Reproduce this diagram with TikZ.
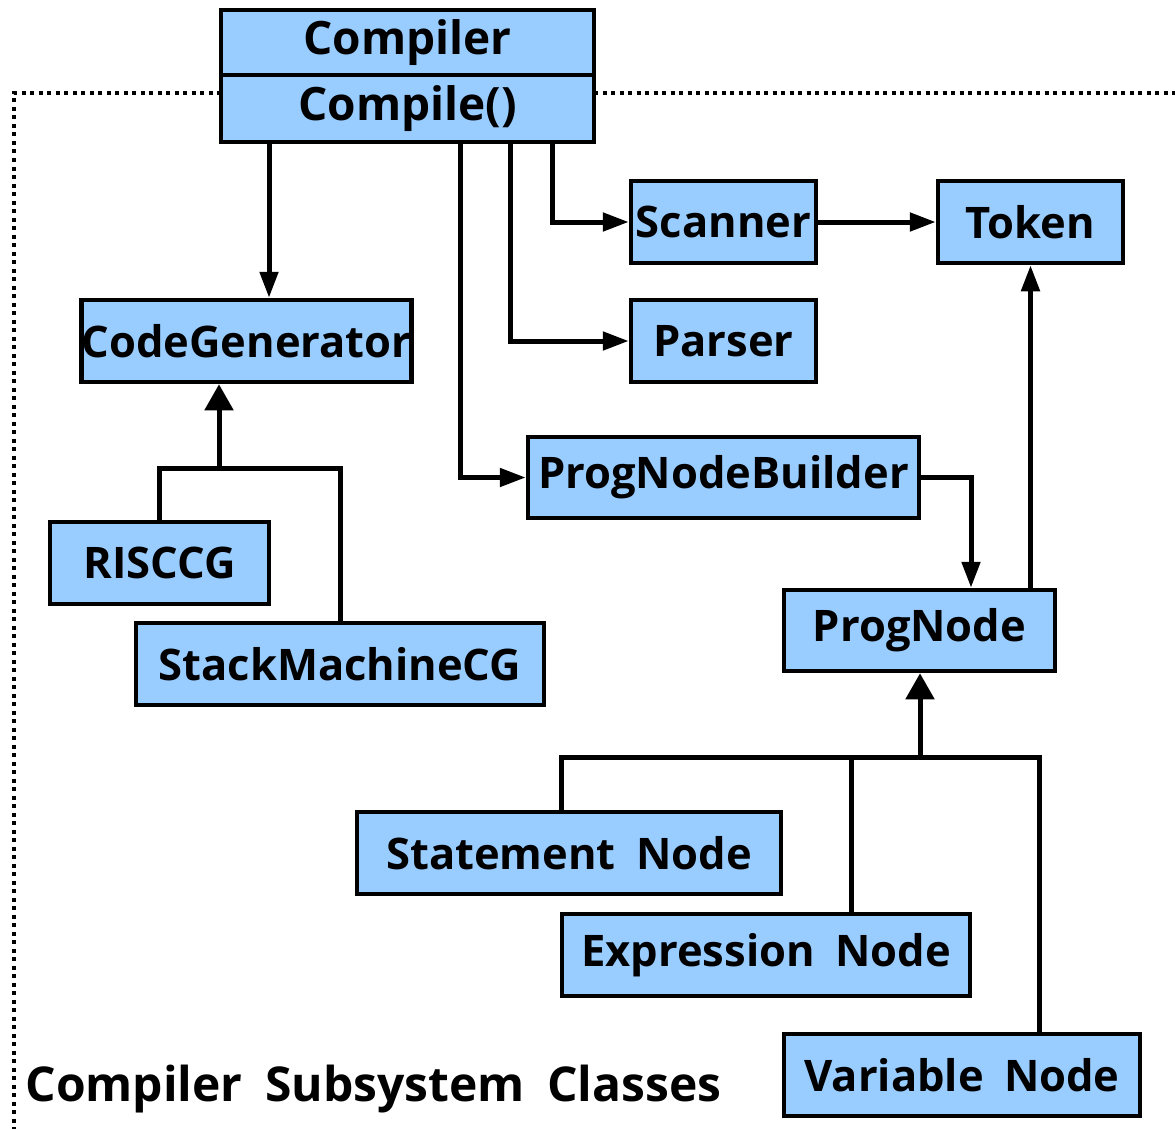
\documentclass[tikz,border=0pt]{standalone}
\usepackage{fontspec}
\setmainfont[WordSpace=1.8]{Open Sans}
\usepackage{xcolor}
\usetikzlibrary{arrows.meta,calc,positioning}
\definecolor{classblue}{HTML}{99CCFF}
\tikzset{%
	classbox/.style = {draw, line width=4.5pt, fill=classblue, rectangle, inner sep=0pt, font=\bfseries\fontsize{43.5}{46}\selectfont, text centered},
	link/.style     = {line width=5pt, -{Triangle[length=26pt,width=18pt]}},
	isa/.style      = {line width=5pt, -{Triangle[length=26pt,width=28pt]}},
	wire/.style     = {line width=5pt},
	frame/.style    = {line width=4pt, dash pattern=on 4pt off 4.5pt},
}

\begin{document}
\begin{tikzpicture}[x=1pt,y=-1pt]
	\useasboundingbox (0,0) rectangle (1175,1129);
	% subsystem frame
	\draw[frame] (221,93) -| (14,1129);
	\draw[frame] (594,93) -- (1175,93);
	\node[font=\bfseries\fontsize{48}{50}\selectfont, anchor=west] (title) at (22,1089) {Compiler Subsystem Classes};
	
	% classes
	\node[classbox, minimum width=373, minimum height=65, font=\bfseries\fontsize{46}{48}\selectfont] (compiler) at (407.5,42.5) {Compiler};
	\node[classbox, minimum width=373, minimum height=67, font=\bfseries\fontsize{46}{48}\selectfont] (compile) at (407.5,108.5) {Compile()};
	\node[classbox, minimum width=185, minimum height=82] (scanner) at (723.5,222) {Scanner};
	\node[classbox, minimum width=185, minimum height=82] (token) at (1030.5,222) {Token};
	\node[classbox, minimum width=323, minimum height=82] (codegen) at (246.5,341) {CodeGenerator};
	\node[classbox, minimum width=185, minimum height=82] (parser) at (723.5,341) {Parser};
	\node[classbox, minimum width=391, minimum height=81] (builder) at (723.5,477.5) {ProgNodeBuilder};
	\node[classbox, minimum width=219, minimum height=82] (risccg) at (159.5,563) {RISCCG};
	\node[classbox, minimum width=408, minimum height=82] (stackcg) at (340,664) {StackMachineCG};
	\node[classbox, minimum width=271, minimum height=81] (prognode) at (919.5,630.5) {ProgNode};
	\node[classbox, minimum width=424, minimum height=82] (stmt) at (569,853) {Statement Node};
	\node[classbox, minimum width=408, minimum height=82] (expr) at (766,955) {Expression Node};
	\node[classbox, minimum width=356, minimum height=82] (var) at (962,1075) {Variable Node};
	
	% uses
	\coordinate (outcg) at (269,142);
	\coordinate (outbuild) at (460,142);
	\coordinate (outparse) at (510,142);
	\coordinate (outscan) at (552,142);
	\draw[link] (outcg) -- (outcg |- codegen.north);
	\draw[link] (outscan) |- (scanner.west);
	\draw[link] (outparse) |- (parser.west);
	\draw[link] (outbuild) |- (builder.west);
	\draw[link] (scanner) -- (token);
	\draw[link] (builder.east) -| ([xshift=51.5]prognode.north);
	\draw[link] (prognode.north -| token) -- (token.south);
	
	% inheritance
	\coordinate (cgjoin) at (219,468);
	\draw[wire] (risccg.north) |- (cgjoin) -| (stackcg.north);
	\draw[isa] (cgjoin) -- (cgjoin |- codegen.south);
	
	\coordinate (pnjoin) at (920,757);
	\coordinate (stmtup) at (561,757);
	\coordinate (exprup) at (851,757);
	\coordinate (varup) at (1039,757);
	\draw[wire] (stmtup |- stmt.north) -- (stmtup) -- (varup) -- (varup |- var.north);
	\draw[wire] (exprup) -- (exprup |- expr.north);
	\draw[isa] (pnjoin) -- (pnjoin |- prognode.south);
\end{tikzpicture}
\end{document}
